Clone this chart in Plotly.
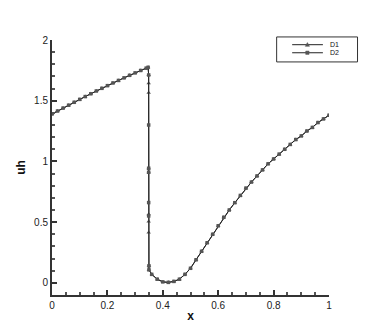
import plotly.graph_objects as go

# D1 (triangles)
x_d1 = [0.00, 0.02, 0.04, 0.06, 0.08, 0.10, 0.12, 0.14, 0.16, 0.18, 0.20, 0.22, 0.24, 0.26, 0.28, 0.30, 0.32, 0.34,
        0.347, 0.349, 0.349, 0.349, 0.349, 0.349, 0.349, 0.349, 0.349, 0.350, 0.350,
        0.36, 0.38, 0.40, 0.42, 0.44, 0.46, 0.48, 0.50, 0.52, 0.54, 0.56, 0.58, 0.60, 0.62, 0.64, 0.66, 0.68,
        0.70, 0.72, 0.74, 0.76, 0.78, 0.80, 0.82, 0.84, 0.86, 0.88, 0.90, 0.92, 0.94, 0.96, 0.98, 1.00]
y_d1 = [1.390, 1.415, 1.439, 1.463, 1.487, 1.511, 1.534, 1.557, 1.580, 1.602, 1.624, 1.646, 1.667, 1.688, 1.709,
        1.729, 1.749, 1.768,
        1.775, 1.712, 1.644, 1.566, 0.944, 0.911, 0.565, 0.505, 0.414, 0.140, 0.107,
        0.070, 0.030, 0.008, 0.004, 0.012, 0.030, 0.070, 0.120, 0.190, 0.260, 0.330, 0.400, 0.470, 0.540, 0.600,
        0.660, 0.720, 0.780, 0.830, 0.880, 0.930, 0.980, 1.020, 1.060, 1.100, 1.140, 1.180, 1.210, 1.250, 1.280,
        1.320, 1.350, 1.380]

# D2 (squares)
x_d2 = [0.00, 0.02, 0.04, 0.06, 0.08, 0.10, 0.12, 0.14, 0.16, 0.18, 0.20, 0.22, 0.24, 0.26, 0.28, 0.30, 0.32, 0.34,
        0.347, 0.349, 0.349, 0.349, 0.349, 0.349, 0.349, 0.350, 0.350,
        0.36, 0.38, 0.40, 0.42, 0.44, 0.46, 0.48, 0.50, 0.52, 0.54, 0.56, 0.58, 0.60, 0.62, 0.64, 0.66, 0.68,
        0.70, 0.72, 0.74, 0.76, 0.78, 0.80, 0.82, 0.84, 0.86, 0.88, 0.90, 0.92, 0.94, 0.96, 0.98, 1.00]
y_d2 = [1.390, 1.415, 1.439, 1.463, 1.487, 1.511, 1.534, 1.557, 1.580, 1.602, 1.624, 1.646, 1.667, 1.688, 1.709,
        1.729, 1.749, 1.768,
        1.775, 1.712, 1.300, 0.944, 0.911, 0.661, 0.551, 0.140, 0.107,
        0.070, 0.030, 0.008, 0.004, 0.012, 0.030, 0.070, 0.120, 0.190, 0.260, 0.330, 0.400, 0.470, 0.540, 0.600,
        0.660, 0.720, 0.780, 0.830, 0.880, 0.930, 0.980, 1.020, 1.060, 1.100, 1.140, 1.180, 1.210, 1.250, 1.280,
        1.320, 1.350, 1.380]

series_names = ["D1", "D2"]

FONT = "Liberation Sans, Arial, sans-serif"
LINE_C = "#222222"
MARK_C = "#555555"

fig = go.Figure()
fig.add_trace(go.Scatter(x=x_d1, y=y_d1, name=series_names[0], mode="lines+markers",
                         line=dict(color=LINE_C, width=1),
                         marker=dict(symbol="triangle-up", size=4, color=MARK_C)))
fig.add_trace(go.Scatter(x=x_d2, y=y_d2, name=series_names[1], mode="lines+markers",
                         line=dict(color=LINE_C, width=1),
                         marker=dict(symbol="square", size=3.5, color=MARK_C)))

axis_common = dict(showgrid=False, zeroline=False, showline=True, linecolor="#333333", linewidth=2,
                   ticks="inside", ticklen=5, tickwidth=1.5, tickcolor="#333333",
                   tickfont=dict(family=FONT, size=10, color="#222222"),
                   mirror=False)

fig.update_xaxes(range=[0, 1], tickvals=[0, 0.2, 0.4, 0.6, 0.8, 1], ticktext=["0", "0.2", "0.4", "0.6", "0.8", "1"],
                 minor=dict(dtick=0.05, tick0=0, ticks="inside", ticklen=3, tickcolor="#555555"),
                 title=dict(text="<b>x</b>", font=dict(family=FONT, size=12, color="#111111"), standoff=2),
                 **axis_common)
fig.update_yaxes(range=[-0.1, 2.0], tickvals=[0, 0.5, 1, 1.5, 2], ticktext=["0", "0.5", "1", "1.5", "2"],
                 minor=dict(dtick=0.1, tick0=0, ticks="inside", ticklen=3, tickcolor="#555555"),
                 title=dict(text="<b>uh</b>", font=dict(family=FONT, size=12, color="#111111"), standoff=6),
                 **axis_common)

# custom compact legend (paper coordinates)
shapes = [dict(type="rect", xref="paper", yref="paper", x0=0.811, x1=1.103, y0=0.914, y1=1.012,
               line=dict(color="#333333", width=1), fillcolor="white", layer="above")]
annotations = []
rows = [0.9816, 0.950]
lx0, lx1, mx = 0.867, 0.978, 0.922
dx, dy = 0.0075, 0.0082
for i, (name, ry) in enumerate(zip(series_names, rows)):
    shapes.append(dict(type="line", xref="paper", yref="paper", x0=lx0, x1=lx1, y0=ry, y1=ry,
                       line=dict(color=LINE_C, width=1), layer="above"))
    if i == 0:
        path = f"M {mx-dx},{ry-dy*0.8} L {mx+dx},{ry-dy*0.8} L {mx},{ry+dy} Z"
        shapes.append(dict(type="path", xref="paper", yref="paper", path=path,
                           fillcolor=MARK_C, line=dict(color=MARK_C, width=0.5), layer="above"))
    else:
        shapes.append(dict(type="rect", xref="paper", yref="paper", x0=mx-dx*0.8, x1=mx+dx*0.8,
                           y0=ry-dy*0.8, y1=ry+dy*0.8,
                           fillcolor=MARK_C, line=dict(color=MARK_C, width=0.5), layer="above"))
    annotations.append(dict(xref="paper", yref="paper", x=0.996, y=ry, text=name, showarrow=False,
                            xanchor="left", yanchor="middle",
                            font=dict(family=FONT, size=7, color="#111111")))

fig.update_layout(
    width=374, height=332,
    margin=dict(l=40, r=53, t=32, b=45),
    plot_bgcolor="white", paper_bgcolor="white",
    showlegend=False,
    shapes=shapes,
    annotations=annotations,
)

fig.write_html("out.html")
